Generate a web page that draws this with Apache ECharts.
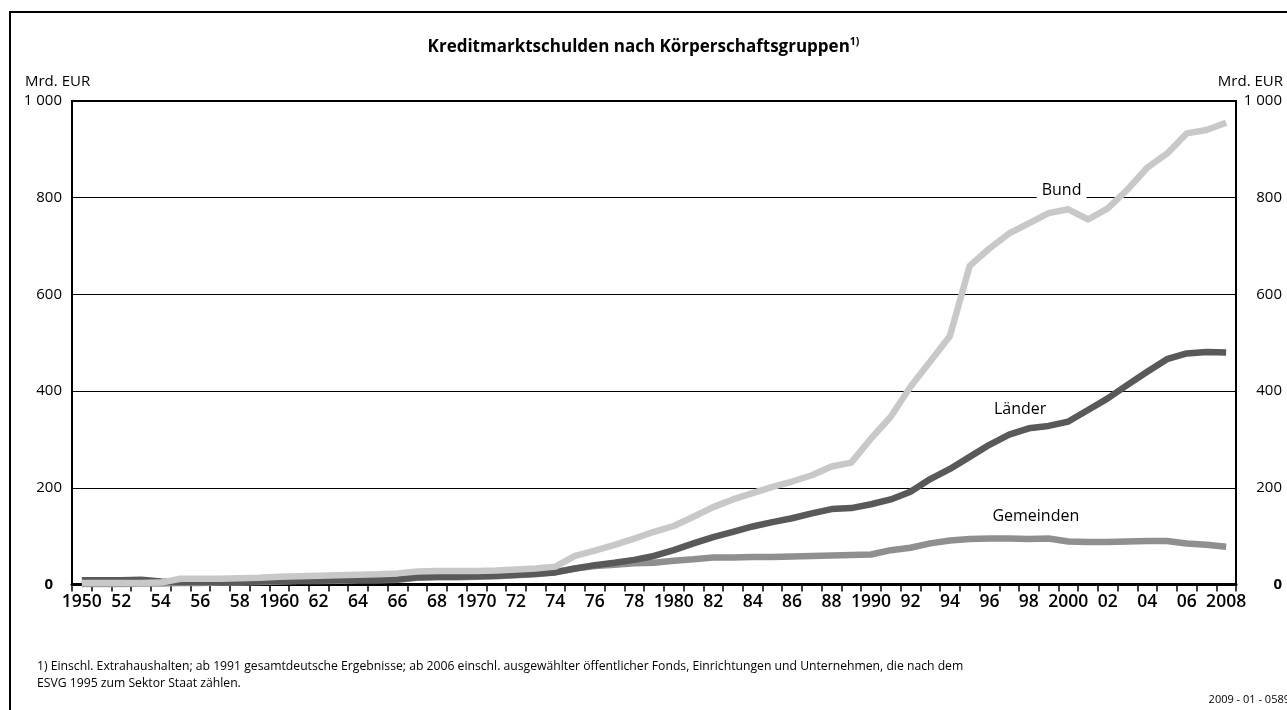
<!DOCTYPE html>
<html><head><meta charset="utf-8">
<script src="https://cdn.jsdelivr.net/npm/echarts@6/dist/echarts.min.js"></script>
<style>html,body{margin:0;padding:0;background:#fff}#c{width:1287px;height:710px}</style>
</head><body><div id="c"></div>
<script>
// ---- data ----
const years = ['1950','1951','1952','1953','1954','1955','1956','1957','1958','1959',
  '1960','1961','1962','1963','1964','1965','1966','1967','1968','1969',
  '1970','1971','1972','1973','1974','1975','1976','1977','1978','1979',
  '1980','1981','1982','1983','1984','1985','1986','1987','1988','1989',
  '1990','1991','1992','1993','1994','1995','1996','1997','1998','1999',
  '2000','2001','2002','2003','2004','2005','2006','2007','2008'];
const yearTickLabels = ['1950','51','52','53','54','55','56','57','58','59',
  '1960','61','62','63','64','65','66','67','68','69',
  '1970','71','72','73','74','75','76','77','78','79',
  '1980','81','82','83','84','85','86','87','88','89',
  '1990','91','92','93','94','95','96','97','98','99',
  '2000','01','02','03','04','05','06','07','2008'];
const bund = [3,3,3,3,4,12,12,12,13,14,
  16,17,18,19,20,21,23,27,28,28,
  28,29,31,33,37,59,70,82,95,109,
  121,140,160,176,189,202,213,226,244,252,
  302,347,409,461,514,659,695,726,747,768,
  776,755,778,817,862,891,933,940,955];
const laender = [9,9,9,10,6,5,5,5,5,6,
  7,8,8,9,10,10,11,15,16,16,
  17,18,20,22,25,33,40,45,51,59,
  71,85,98,109,120,129,137,147,156,158,
  166,176,192,218,239,264,289,310,323,328,
  337,361,385,413,440,466,478,481,480];
const gemeinden = [1,1,1,2,2,3,3,4,4,5,
  6,7,7,8,9,9,10,14,15,15,
  16,17,19,21,26,33,38,41,44,45,
  49,52,56,56,57,57,58,59,60,61,
  62,71,76,85,91,94,95,95,94,95,
  89,88,88,89,90,90,85,82,78];
const yMin = 0, yMax = 1000, yStep = 200;
const yTickLabels = {0:'0',200:'200',400:'400',600:'600',800:'800',1000:'1 000'};
const seriesNames = ['Gemeinden','Länder','Bund'];
const titleText = 'Kreditmarktschulden nach Körperschaftsgruppen';
const unitText = 'Mrd. EUR';
const footnote = '1) Einschl. Extrahaushalten; ab 1991 gesamtdeutsche Ergebnisse; ab 2006 einschl. ausgewählter öffentlicher Fonds, Einrichtungen und Unternehmen, die nach dem\nESVG 1995 zum Sektor Staat zählen.';
const docId = '2009 - 01 - 0589';

// ---- chart ----
const FONT = "'Open Sans', sans-serif";
const chart = echarts.init(document.getElementById('c'), null, {renderer:'canvas'});

function lineSeries(name, data, color, labelCoord, labelOffset, bg) {
  return {
    name, type:'line', data, symbol:'none', smooth:false,
    lineStyle:{color, width:6.5, join:'round', cap:'butt'},
    itemStyle:{color},
    z: 3,
    markPoint:{
      symbol:'circle', symbolSize:0, silent:true, animation:false,
      data:[{coord:labelCoord}],
      label:{show:true, position:'inside', offset:labelOffset, formatter:name,
        color:'#000', fontFamily:FONT, fontSize:16,
        backgroundColor: bg ? '#fff' : 'transparent', padding: bg ? [0,5] : 0}
    }
  };
}

const option = {
  animation:false,
  backgroundColor:'#fff',
  title:{
    text: titleText + '{s|1)}',
    left:'center', top:32,
    textStyle:{fontFamily:FONT, fontSize:17, fontWeight:'bold', color:'#000',
      rich:{s:{fontFamily:FONT, fontSize:10.5, fontWeight:'bold', color:'#000', padding:[0,0,9,0]}}}
  },
  grid:{left:72, right:51, top:101, bottom:125.5, show:true, borderColor:'#000', borderWidth:2, backgroundColor:'transparent'},
  xAxis:{
    type:'category', data:years, boundaryGap:true,
    axisLine:{show:true, lineStyle:{color:'#000', width:3}},
    axisTick:{show:true, interval:0, length:7, lineStyle:{color:'#000', width:1.5}},
    axisLabel:{interval:1, margin:9, color:'#000', fontFamily:FONT, fontSize:17.5, fontWeight:600,
      formatter:(v,i)=>yearTickLabels[i]},
    splitLine:{show:false}
  },
  yAxis:[{
    type:'value', min:yMin, max:yMax, interval:yStep, position:'left',
    axisLine:{show:false}, axisTick:{show:false},
    splitLine:{show:true, lineStyle:{color:'#000', width:1.2}},
    axisLabel:{margin:10, color:'#000', fontFamily:FONT, fontSize:15,
      formatter:v=> v===0 ? '{z|0}' : yTickLabels[v],
      rich:{z:{fontFamily:FONT, fontSize:15, fontWeight:'bold', color:'#000', padding:[0,9,0,0]}}}
  },{
    type:'value', min:yMin, max:yMax, interval:yStep, position:'right',
    axisLine:{show:false}, axisTick:{show:false}, splitLine:{show:false},
    axisLabel:{margin:46, align:'right', color:'#000', fontFamily:FONT, fontSize:15,
      formatter:v=> v===0 ? '{z|0}' : yTickLabels[v],
      rich:{z:{fontFamily:FONT, fontSize:15, fontWeight:'bold', color:'#000'}}}
  }],
  series:[
    lineSeries(seriesNames[0], gemeinden, '#8f8f8f', ['1998',140], [7,0], false),
    lineSeries(seriesNames[1], laender, '#595959', ['1997',363], [11,0], false),
    lineSeries(seriesNames[2], bund, '#c8c8c8', ['1999',815], [13,0], true)
  ],
  graphic:[
    {type:'polyline', shape:{points:[[10,720],[10,12],[1295,12]]}, style:{stroke:'#000', lineWidth:2, fill:null}, silent:true},
    {type:'text', left:25, top:74, style:{text:unitText, font:"15px 'Open Sans', sans-serif", fill:'#000'}},
    {type:'text', right:4, top:74, style:{text:unitText, font:"15px 'Open Sans', sans-serif", fill:'#000'}},
    {type:'text', left:37, top:658, style:{text:footnote, font:"12.2px 'Open Sans', sans-serif", fill:'#000', lineHeight:17}},
    {type:'text', right:-3, top:694, style:{text:docId, font:"11px 'Open Sans', sans-serif", fill:'#000'}}
  ]
};
chart.setOption(option);
</script>
</body></html>
